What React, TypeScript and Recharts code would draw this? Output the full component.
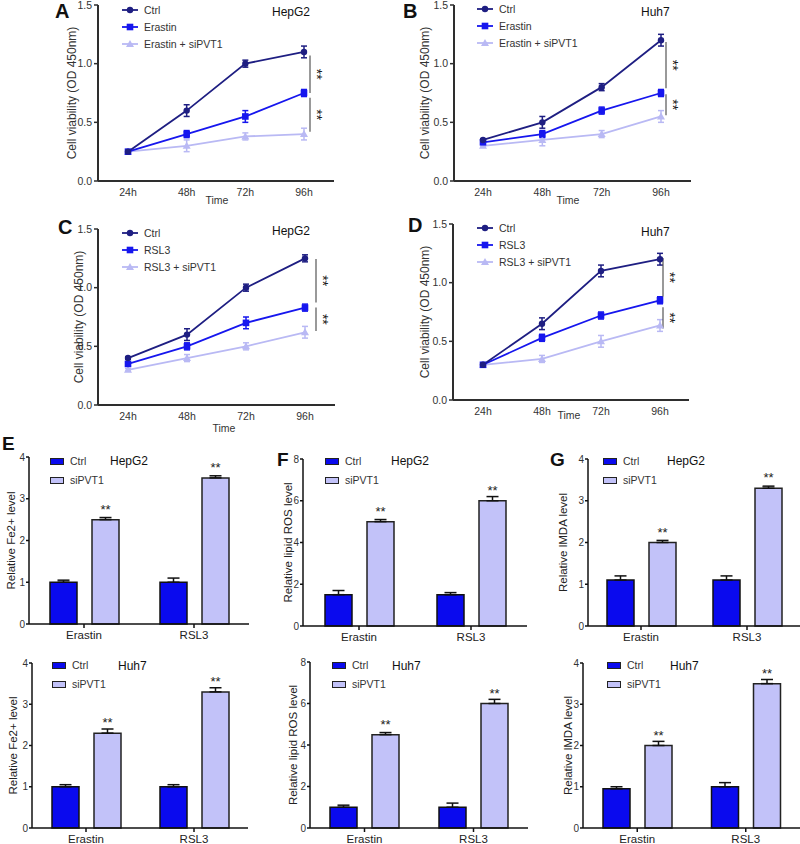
import React from "react";
import {
  LineChart,
  Line,
  BarChart,
  Bar,
  XAxis,
  YAxis,
  ErrorBar,
  ReferenceLine,
  LabelList,
  Legend,
  Label,
} from "recharts";

// ---------------------------------------------------------------------------
// Colours / fonts
// ---------------------------------------------------------------------------
const FONT = "'Liberation Sans', Arial, sans-serif";
const NAVY = "#1e1e82";
const BLUE = "#1616ee";
const LAVENDER = "#b9b9f4";
const BAR_BLUE = "#0a0aee";
const BAR_LAV = "#c2c2f9";
const AXIS = "#2e2e2e";

// ---------------------------------------------------------------------------
// Data: cell viability (A-D)
// ---------------------------------------------------------------------------
const TIMES = ["24h", "48h", "72h", "96h"];
const VIAB_TICKS = [0, 0.5, 1.0, 1.5];

const A_CTRL = [0.25, 0.6, 1.0, 1.1];
const A_CTRL_SD = [0.01, 0.05, 0.03, 0.05];
const A_DRUG = [0.25, 0.4, 0.55, 0.75];
const A_DRUG_SD = [0.01, 0.03, 0.05, 0.03];
const A_SI = [0.25, 0.3, 0.38, 0.4];
const A_SI_SD = [0.01, 0.05, 0.03, 0.05];

const B_CTRL = [0.35, 0.5, 0.8, 1.2];
const B_CTRL_SD = [0.01, 0.05, 0.03, 0.05];
const B_DRUG = [0.33, 0.4, 0.6, 0.75];
const B_DRUG_SD = [0.01, 0.03, 0.03, 0.03];
const B_SI = [0.3, 0.35, 0.4, 0.55];
const B_SI_SD = [0.01, 0.05, 0.03, 0.05];

const C_CTRL = [0.4, 0.6, 1.0, 1.25];
const C_CTRL_SD = [0.01, 0.05, 0.03, 0.03];
const C_DRUG = [0.35, 0.5, 0.7, 0.83];
const C_DRUG_SD = [0.01, 0.03, 0.05, 0.03];
const C_SI = [0.3, 0.4, 0.5, 0.62];
const C_SI_SD = [0.01, 0.03, 0.03, 0.05];

const D_CTRL = [0.3, 0.65, 1.1, 1.2];
const D_CTRL_SD = [0.01, 0.05, 0.05, 0.05];
const D_DRUG = [0.3, 0.53, 0.72, 0.85];
const D_DRUG_SD = [0.01, 0.03, 0.03, 0.03];
const D_SI = [0.3, 0.35, 0.5, 0.635];
const D_SI_SD = [0.01, 0.03, 0.05, 0.05];

// significance brackets at 96h: [upper, lower]
const A_SIG: [number, number][] = [[1.07, 0.75], [0.71, 0.42]];
const B_SIG: [number, number][] = [[1.185, 0.79], [0.74, 0.56]];
const C_SIG: [number, number][] = [[1.245, 0.874], [0.83, 0.63]];
const D_SIG: [number, number][] = [[1.21, 0.88], [0.79, 0.61]];

// ---------------------------------------------------------------------------
// Data: bar panels (E-G)
// ---------------------------------------------------------------------------
const GROUPS = ["Erastin", "RSL3"];

const E1_CTRL = [1.0, 1.0];
const E1_CTRL_ERR = [0.05, 0.1];
const E1_SI = [2.5, 3.5];
const E1_SI_ERR = [0.05, 0.05];

const F1_CTRL = [1.5, 1.5];
const F1_CTRL_ERR = [0.2, 0.1];
const F1_SI = [5.0, 6.0];
const F1_SI_ERR = [0.1, 0.2];

const G1_CTRL = [1.1, 1.1];
const G1_CTRL_ERR = [0.1, 0.1];
const G1_SI = [2.0, 3.3];
const G1_SI_ERR = [0.05, 0.05];

const E2_CTRL = [1.0, 1.0];
const E2_CTRL_ERR = [0.05, 0.05];
const E2_SI = [2.3, 3.3];
const E2_SI_ERR = [0.1, 0.1];

const F2_CTRL = [1.0, 1.0];
const F2_CTRL_ERR = [0.1, 0.2];
const F2_SI = [4.5, 6.0];
const F2_SI_ERR = [0.1, 0.2];

const G2_CTRL = [0.95, 1.0];
const G2_CTRL_ERR = [0.05, 0.1];
const G2_SI = [2.0, 3.5];
const G2_SI_ERR = [0.1, 0.1];

const TICKS_4 = [0, 1, 2, 3, 4];
const TICKS_8 = [0, 2, 4, 6, 8];

// ---------------------------------------------------------------------------
// helpers
// ---------------------------------------------------------------------------
const viabRows = (c: number[], cs: number[], d: number[], ds: number[], s: number[], ss: number[]) =>
  TIMES.map((t, i) => ({ time: t, ctrl: c[i], ctrlSd: cs[i], drug: d[i], drugSd: ds[i], si: s[i], siSd: ss[i] }));

const barRows = (c: number[], ce: number[], s: number[], se: number[]) =>
  GROUPS.map((g, i) => ({ group: g, ctrl: c[i], ctrlErr: [0, ce[i]], si: s[i], siErr: [0, se[i]] }));

const Marker = ({ shape, cx, cy, color }: any) => {
  if (shape === "circle") return <circle cx={cx} cy={cy} r={3.2} fill={color} />;
  if (shape === "square") return <rect x={cx - 3.3} y={cy - 3.3} width={6.6} height={6.6} fill={color} />;
  return <path d={`M${cx},${cy - 4} L${cx + 4},${cy + 3} L${cx - 4},${cy + 3} Z`} fill={color} />;
};

const PanelText = ({ x, y, size, bold, children }: any) => (
  <div
    style={{
      position: "absolute",
      left: x,
      top: y,
      fontSize: size,
      fontWeight: bold ? "bold" : "normal",
      lineHeight: 1,
      fontFamily: FONT,
      color: "#111",
      whiteSpace: "nowrap",
    }}
  >
    {children}
  </div>
);

// ---------------------------------------------------------------------------
// Line panel (A-D)
// ---------------------------------------------------------------------------
const Y_W = 40;
const X_H = 30;

const ViabilityPanel = ({ data, drug, box, plot, pad, yTitleX, timeX, timeY, legendX, legendY, sig, sigDx }: any) => {
  const series = [
    { key: "ctrl", name: "Ctrl", color: NAVY, shape: "circle" },
    { key: "drug", name: drug, color: BLUE, shape: "square" },
    { key: "si", name: `${drug} + siPVT1`, color: LAVENDER, shape: "triangle" },
  ];
  const margin = {
    top: plot.y1 - box.top,
    right: box.left + box.width - plot.x2,
    bottom: box.top + box.height - plot.y2 - X_H,
    left: plot.x1 - box.left - Y_W,
  };
  const midY = (plot.y1 + plot.y2) / 2 - box.top;
  return (
    <div style={{ position: "absolute", left: box.left, top: box.top }}>
      <LineChart width={box.width} height={box.height} data={data} margin={margin}>
        <XAxis
          dataKey="time"
          height={X_H}
          padding={pad}
          interval={0}
          tickLine={false}
          axisLine={{ stroke: AXIS, strokeWidth: 2 }}
          tick={{ fontSize: 10.5, fill: "#333", fontFamily: FONT }}
        >
          <Label
            content={() => (
              <text x={timeX - box.left} y={timeY - box.top} textAnchor="middle" dominantBaseline="central"
                fontSize={10.5} fill="#333" fontFamily={FONT}>
                Time
              </text>
            )}
          />
        </XAxis>
        <YAxis
          width={Y_W}
          domain={[0, 1.5]}
          ticks={VIAB_TICKS}
          tickFormatter={(v: number) => v.toFixed(1)}
          tickSize={4}
          tickMargin={2}
          axisLine={{ stroke: AXIS, strokeWidth: 2 }}
          tickLine={{ stroke: AXIS, strokeWidth: 1.5 }}
          tick={{ fontSize: 10.5, fill: "#333", fontFamily: FONT }}
        >
          <Label
            content={() => (
              <text transform={`translate(${yTitleX - box.left},${midY}) rotate(-90)`} textAnchor="middle"
                dominantBaseline="central" fontSize={12} fill="#333" fontFamily={FONT}>
                Cell viability (OD 450nm)
              </text>
            )}
          />
        </YAxis>
        {[...series].reverse().map((s) => (
          <Line
            key={s.key}
            dataKey={s.key}
            name={s.name}
            type="linear"
            stroke={s.color}
            strokeWidth={1.8}
            isAnimationActive={false}
            dot={(p: any) => <Marker key={`${s.key}-${p.index}`} shape={s.shape} cx={p.cx} cy={p.cy} color={s.color} />}
          >
            <ErrorBar dataKey={`${s.key}Sd`} width={3} stroke={s.color} strokeWidth={1.5} />
          </Line>
        ))}
        {sig.map(([hi, lo]: [number, number], i: number) => (
          <ReferenceLine
            key={`sig-${i}`}
            segment={[{ x: "96h", y: hi }, { x: "96h", y: lo }]}
            shape={(p: any) => {
              const x = p.x1 + sigDx;
              const mid = (p.y1 + p.y2) / 2;
              return (
                <g>
                  <line x1={x} y1={p.y1} x2={x} y2={p.y2} stroke="#555" strokeWidth={1.2} />
                  <text transform={`translate(${x + 2},${mid}) rotate(90)`} textAnchor="middle" fontSize={14}
                    fill="#1a1a1a" stroke="none" fontFamily={FONT}>
                    **
                  </text>
                </g>
              );
            }}
          />
        ))}
        <Legend
          layout="vertical"
          align="center"
          verticalAlign="middle"
          wrapperStyle={{ left: legendX - box.left, top: legendY - box.top - 8.5, width: "auto" }}
          content={() => (
            <div style={{ fontFamily: FONT, fontSize: 10.5, color: "#333" }}>
              {series.map((s) => (
                <div key={s.key} style={{ display: "flex", alignItems: "center", height: 17 }}>
                  <svg width={16} height={10} style={{ display: "block" }}>
                    <line x1={0} y1={5} x2={16} y2={5} stroke={s.color} strokeWidth={1.8} />
                    <Marker shape={s.shape} cx={8} cy={5} color={s.color} />
                  </svg>
                  <span style={{ marginLeft: 6 }}>{s.name}</span>
                </div>
              ))}
            </div>
          )}
        />
      </LineChart>
    </div>
  );
};

// ---------------------------------------------------------------------------
// Bar panel (E-G)
// ---------------------------------------------------------------------------
const BY_W = 20;
const BX_H = 20;

const Stars = ({ x, y, width }: any) => (
  <text x={x + width / 2} y={y - 6} textAnchor="middle" fontSize={13} fill="#222" fontFamily={FONT}>
    **
  </text>
);

const BarPanel = ({ data, yMax, ticks, yTitle, box, plot, yTitleX, legendX, legendY }: any) => {
  const margin = {
    top: plot.y1 - box.top,
    right: box.left + box.width - plot.x2,
    bottom: box.top + box.height - plot.y2 - BX_H,
    left: plot.x1 - box.left - BY_W,
  };
  const midY = (plot.y1 + plot.y2) / 2 - box.top;
  const legendRows = [
    { name: "Ctrl", color: BAR_BLUE },
    { name: "siPVT1", color: BAR_LAV },
  ];
  return (
    <div style={{ position: "absolute", left: box.left, top: box.top }}>
      <BarChart width={box.width} height={box.height} data={data} margin={margin} barSize={27} barGap={15}>
        <XAxis
          dataKey="group"
          height={BX_H}
          interval={0}
          tickSize={4}
          tickMargin={3}
          axisLine={{ stroke: "#111", strokeWidth: 1.5 }}
          tickLine={{ stroke: "#111", strokeWidth: 1.5 }}
          tick={{ fontSize: 11.5, fill: "#222", fontFamily: FONT }}
        />
        <YAxis
          width={BY_W}
          domain={[0, yMax]}
          ticks={ticks}
          tickSize={3}
          tickMargin={1}
          axisLine={{ stroke: "#111", strokeWidth: 1.5 }}
          tickLine={{ stroke: "#111", strokeWidth: 1.5 }}
          tick={{ fontSize: 10, fill: "#333", fontFamily: FONT }}
        >
          <Label
            content={() => (
              <text transform={`translate(${yTitleX - box.left},${midY}) rotate(-90)`} textAnchor="middle"
                dominantBaseline="central" fontSize={11.5} fill="#222" fontFamily={FONT}>
                {yTitle}
              </text>
            )}
          />
        </YAxis>
        <Bar dataKey="ctrl" fill={BAR_BLUE} stroke="#111" strokeWidth={1.5} isAnimationActive={false}>
          <ErrorBar dataKey="ctrlErr" width={6} stroke="#111" strokeWidth={1.5} />
        </Bar>
        <Bar dataKey="si" fill={BAR_LAV} stroke="#222" strokeWidth={1.5} isAnimationActive={false}>
          <ErrorBar dataKey="siErr" width={6} stroke="#111" strokeWidth={1.5} />
          <LabelList dataKey="si" content={Stars} />
        </Bar>
        <Legend
          layout="vertical"
          align="center"
          verticalAlign="middle"
          wrapperStyle={{ left: legendX - box.left, top: legendY - box.top - 9.5, width: "auto" }}
          content={() => (
            <div style={{ fontFamily: FONT, fontSize: 10.5, color: "#333" }}>
              {legendRows.map((r) => (
                <div key={r.name} style={{ display: "flex", alignItems: "center", height: 19 }}>
                  <div style={{ width: 12, height: 5, background: r.color, border: "1.5px solid #222" }} />
                  <span style={{ marginLeft: 6 }}>{r.name}</span>
                </div>
              ))}
            </div>
          )}
        />
      </BarChart>
    </div>
  );
};

// ---------------------------------------------------------------------------
// App
// ---------------------------------------------------------------------------
export default function App() {
  return (
    <div
      style={{
        position: "absolute",
        left: 0,
        top: 0,
        width: 800,
        height: 844,
        overflow: "hidden",
        background: "#fff",
        fontFamily: FONT,
      }}
    >
      <ViabilityPanel
        data={viabRows(A_CTRL, A_CTRL_SD, A_DRUG, A_DRUG_SD, A_SI, A_SI_SD)}
        drug="Erastin"
        box={{ left: 0, top: 0, width: 400, height: 215 }}
        plot={{ x1: 98, x2: 334, y1: 5, y2: 181 }}
        pad={{ left: 30, right: 30 }}
        yTitleX={72}
        timeX={217}
        timeY={200}
        legendX={122}
        legendY={10}
        sig={A_SIG}
        sigDx={6}
      />
      <ViabilityPanel
        data={viabRows(B_CTRL, B_CTRL_SD, B_DRUG, B_DRUG_SD, B_SI, B_SI_SD)}
        drug="Erastin"
        box={{ left: 400, top: 0, width: 400, height: 215 }}
        plot={{ x1: 454, x2: 691, y1: 5, y2: 181 }}
        pad={{ left: 29, right: 30 }}
        yTitleX={425}
        timeX={568}
        timeY={200}
        legendX={477}
        legendY={9}
        sig={B_SIG}
        sigDx={5}
      />
      <ViabilityPanel
        data={viabRows(C_CTRL, C_CTRL_SD, C_DRUG, C_DRUG_SD, C_SI, C_SI_SD)}
        drug="RSL3"
        box={{ left: 0, top: 215, width: 400, height: 225 }}
        plot={{ x1: 98, x2: 335, y1: 229, y2: 405 }}
        pad={{ left: 30, right: 30 }}
        yTitleX={79}
        timeX={224}
        timeY={428}
        legendX={122}
        legendY={233}
        sig={C_SIG}
        sigDx={11}
      />
      <ViabilityPanel
        data={viabRows(D_CTRL, D_CTRL_SD, D_DRUG, D_DRUG_SD, D_SI, D_SI_SD)}
        drug="RSL3"
        box={{ left: 400, top: 215, width: 400, height: 225 }}
        plot={{ x1: 453, x2: 689, y1: 224, y2: 400 }}
        pad={{ left: 30, right: 29 }}
        yTitleX={425}
        timeX={569}
        timeY={415}
        legendX={477}
        legendY={228}
        sig={D_SIG}
        sigDx={3}
      />

      <BarPanel
        data={barRows(E1_CTRL, E1_CTRL_ERR, E1_SI, E1_SI_ERR)}
        yMax={4}
        ticks={TICKS_4}
        yTitle="Relative Fe2+ level"
        box={{ left: 0, top: 440, width: 265, height: 210 }}
        plot={{ x1: 29, x2: 249, y1: 457, y2: 624 }}
        yTitleX={11}
        legendX={50}
        legendY={461}
      />
      <BarPanel
        data={barRows(F1_CTRL, F1_CTRL_ERR, F1_SI, F1_SI_ERR)}
        yMax={8}
        ticks={TICKS_8}
        yTitle="Relative lipid ROS level"
        box={{ left: 265, top: 440, width: 270, height: 210 }}
        plot={{ x1: 303, x2: 527, y1: 459, y2: 626 }}
        yTitleX={288}
        legendX={325}
        legendY={461}
      />
      <BarPanel
        data={barRows(G1_CTRL, G1_CTRL_ERR, G1_SI, G1_SI_ERR)}
        yMax={4}
        ticks={TICKS_4}
        yTitle="Relative lMDA level"
        box={{ left: 530, top: 440, width: 270, height: 210 }}
        plot={{ x1: 588, x2: 800, y1: 459, y2: 626 }}
        yTitleX={563}
        legendX={603}
        legendY={461}
      />
      <BarPanel
        data={barRows(E2_CTRL, E2_CTRL_ERR, E2_SI, E2_SI_ERR)}
        yMax={4}
        ticks={TICKS_4}
        yTitle="Relative Fe2+ level"
        box={{ left: 0, top: 645, width: 265, height: 205 }}
        plot={{ x1: 32, x2: 248, y1: 663, y2: 828 }}
        yTitleX={13}
        legendX={52}
        legendY={665}
      />
      <BarPanel
        data={barRows(F2_CTRL, F2_CTRL_ERR, F2_SI, F2_SI_ERR)}
        yMax={8}
        ticks={TICKS_8}
        yTitle="Relative lipid ROS level"
        box={{ left: 265, top: 645, width: 270, height: 205 }}
        plot={{ x1: 310, x2: 528, y1: 662, y2: 828 }}
        yTitleX={293}
        legendX={332}
        legendY={665}
      />
      <BarPanel
        data={barRows(G2_CTRL, G2_CTRL_ERR, G2_SI, G2_SI_ERR)}
        yMax={4}
        ticks={TICKS_4}
        yTitle="Relative lMDA level"
        box={{ left: 530, top: 645, width: 270, height: 205 }}
        plot={{ x1: 583, x2: 800, y1: 663, y2: 828 }}
        yTitleX={568}
        legendX={607}
        legendY={665}
      />

      {/* panel letters */}
      <PanelText x={55} y={1} size={20} bold>A</PanelText>
      <PanelText x={403} y={1} size={20} bold>B</PanelText>
      <PanelText x={58} y={217} size={20} bold>C</PanelText>
      <PanelText x={408} y={215} size={20} bold>D</PanelText>
      <PanelText x={2} y={434} size={19} bold>E</PanelText>
      <PanelText x={277} y={450} size={19} bold>F</PanelText>
      <PanelText x={550} y={450} size={19} bold>G</PanelText>

      {/* cell line titles */}
      <PanelText x={272} y={6} size={12}>HepG2</PanelText>
      <PanelText x={641} y={6} size={12}>Huh7</PanelText>
      <PanelText x={272} y={225} size={12}>HepG2</PanelText>
      <PanelText x={641} y={226} size={12}>Huh7</PanelText>
      <PanelText x={110} y={455} size={12}>HepG2</PanelText>
      <PanelText x={391} y={455} size={12}>HepG2</PanelText>
      <PanelText x={667} y={455} size={12}>HepG2</PanelText>
      <PanelText x={118} y={660} size={12}>Huh7</PanelText>
      <PanelText x={392} y={660} size={12}>Huh7</PanelText>
      <PanelText x={670} y={660} size={12}>Huh7</PanelText>
    </div>
  );
}
